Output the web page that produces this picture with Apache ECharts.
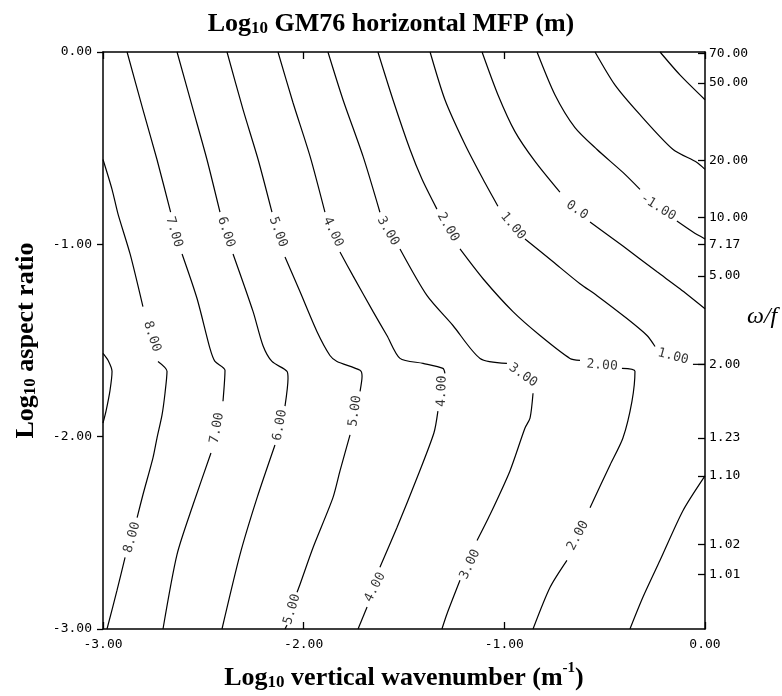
<!DOCTYPE html>
<html>
<head>
<meta charset="utf-8">
<script src="https://cdn.jsdelivr.net/npm/echarts@6/dist/echarts.min.js"></script>
<style>html,body{margin:0;padding:0;background:#fff}#c{width:782px;height:696px}</style>
</head>
<body>
<div id="c"></div>
<script>
// ---- axis ticks ----
const xTickValues = [-3, -2, -1, 0];
const yTickValues = [-3, -2, -1, 0];
const omegaLabels = ['70.00','50.00','20.00','10.00','7.17','5.00','2.00','1.23','1.10','1.02','1.01'];
const omegaPos    = [-0.006,-0.160,-0.564,-0.859,-1.000,-1.164,-1.624,-2.007,-2.204,-2.560,-2.716];

// ---- contour lines: [log10 vertical wavenumber, log10 aspect ratio], split at label gaps ----
const contour8 = [
  [[-3,-0.559],[-2.955,-0.714],[-2.925,-0.843],[-2.865,-1.050],[-2.801,-1.324]],
  [[-2.726,-1.609],[-2.681,-1.660],[-2.691,-1.774],[-2.706,-1.888],[-2.731,-2.007],[-2.751,-2.110],[-2.801,-2.302],[-2.830,-2.421]],
  [[-2.890,-2.628],[-2.930,-2.798],[-2.980,-3.0]]
];
const contour8b = [
  [[-3,-1.567],[-2.975,-1.603],[-2.955,-1.660],[-2.965,-1.759],[-2.985,-1.867],[-3,-1.929]]
];
const contour7 = [
  [[-2.880,0],[-2.801,-0.300],[-2.731,-0.559],[-2.663,-0.833]],
  [[-2.606,-1.050],[-2.531,-1.283],[-2.467,-1.541],[-2.442,-1.609],[-2.392,-1.655],[-2.402,-1.816]],
  [[-2.462,-2.085],[-2.551,-2.353],[-2.631,-2.612],[-2.701,-3.0]]
];
const contour6 = [
  [[-2.631,0],[-2.551,-0.300],[-2.482,-0.559],[-2.417,-0.833]],
  [[-2.352,-1.050],[-2.252,-1.350],[-2.203,-1.526],[-2.158,-1.609],[-2.083,-1.660],[-2.078,-1.697],[-2.093,-1.841]],
  [[-2.143,-2.043],[-2.232,-2.317],[-2.317,-2.612],[-2.407,-3.0]]
];
const contour5 = [
  [[-2.382,0],[-2.302,-0.300],[-2.227,-0.559],[-2.158,-0.833]],
  [[-2.093,-1.066],[-2.018,-1.247],[-1.934,-1.453],[-1.869,-1.578],[-1.834,-1.609],[-1.719,-1.655],[-1.709,-1.686],[-1.719,-1.764]],
  [[-1.769,-1.991],[-1.819,-2.178],[-1.854,-2.317],[-1.953,-2.576],[-2.018,-2.767],[-2.033,-2.809]],
  [[-2.083,-2.979],[-2.093,-3.0]]
];
const contour4 = [
  [[-2.128,0],[-2.053,-0.264],[-1.968,-0.543],[-1.894,-0.833]],
  [[-1.819,-1.040],[-1.754,-1.164],[-1.654,-1.350],[-1.585,-1.474],[-1.520,-1.593],[-1.405,-1.619],[-1.306,-1.645],[-1.296,-1.671]],
  [[-1.331,-1.867],[-1.351,-1.981],[-1.435,-2.214],[-1.535,-2.472],[-1.620,-2.679]],
  [[-1.684,-2.886],[-1.729,-3.0]]
];
const contour3 = [
  [[-1.879,0],[-1.804,-0.248],[-1.704,-0.543],[-1.620,-0.833]],
  [[-1.520,-1.024],[-1.385,-1.267],[-1.256,-1.422],[-1.121,-1.593],[-0.987,-1.619]],
  [[-0.857,-1.774],[-0.872,-1.904],[-0.897,-1.955],[-0.972,-2.178],[-1.071,-2.405],[-1.136,-2.540]],
  [[-1.221,-2.747],[-1.286,-2.922],[-1.311,-3.0]]
];
const contour2 = [
  [[-1.630,0],[-1.555,-0.248],[-1.470,-0.507],[-1.410,-0.662],[-1.336,-0.817]],
  [[-1.221,-1.024],[-1.106,-1.179],[-0.957,-1.350],[-0.822,-1.474],[-0.673,-1.593],[-0.623,-1.603]],
  [[-0.414,-1.645],[-0.349,-1.660],[-0.364,-1.816],[-0.409,-2.007],[-0.473,-2.147],[-0.573,-2.369]],
  [[-0.688,-2.643],[-0.772,-2.783],[-0.857,-3.0]]
];
const contour1 = [
  [[-1.370,0],[-1.296,-0.248],[-1.196,-0.481],[-1.106,-0.662],[-1.032,-0.802]],
  [[-0.897,-0.972],[-0.757,-1.091],[-0.623,-1.205],[-0.538,-1.267],[-0.389,-1.386],[-0.289,-1.474],[-0.249,-1.531]],
  [[-0.060,-1.624],[0,-1.624]],
  [[0,-2.204],[-0.110,-2.385],[-0.224,-2.643],[-0.309,-2.834],[-0.374,-3.0]]
];
const contour0 = [
  [[-1.111,0],[-1.032,-0.222],[-0.947,-0.414],[-0.847,-0.569],[-0.723,-0.729]],
  [[-0.573,-0.884],[-0.409,-1.009],[-0.239,-1.143],[-0.125,-1.231],[0,-1.335]]
];
const contourM1 = [
  [[-0.837,0],[-0.748,-0.222],[-0.648,-0.393],[-0.538,-0.507],[-0.409,-0.626],[-0.324,-0.714]],
  [[-0.140,-0.879],[-0.060,-0.936],[0,-0.972]]
];
const contourM2 = [
  [[-0.548,0],[-0.449,-0.171],[-0.324,-0.326],[-0.159,-0.507],[-0.040,-0.574],[0,-0.610]]
];
const contourM3 = [
  [[-0.224,0],[-0.125,-0.119],[0,-0.248]]
];

// ---- contour labels: [x, y, text] and their angles ----
const contourLabels = [
  [-2.756,-1.479,'8.00'],[-2.855,-2.524,'8.00'],
  [-2.646,-0.936,'7.00'],[-2.432,-1.955,'7.00'],
  [-2.387,-0.936,'6.00'],[-2.118,-1.940,'6.00'],
  [-2.128,-0.936,'5.00'],[-1.744,-1.867,'5.00'],[-2.058,-2.897,'5.00'],
  [-1.854,-0.936,'4.00'],[-1.311,-1.764,'4.00'],[-1.644,-2.783,'4.00'],
  [-1.580,-0.931,'3.00'],[-0.907,-1.681,'3.00'],[-1.171,-2.664,'3.00'],
  [-1.281,-0.910,'2.00'],[-0.513,-1.629,'2.00'],[-0.633,-2.514,'2.00'],
  [-0.957,-0.905,'1.00'],[-0.159,-1.583,'1.00'],
  [-0.638,-0.822,'0.0'],
  [-0.234,-0.807,'-1.00']
];
const contourLabelAngles = [-72,74,-73,80,-72,80,-70,82,73,-65,88,63,-60,-35,65,-60,-4,62,-50,-15,-35,-32];

const allContours = [contour8, contour8b, contour7, contour6, contour5, contour4, contour3, contour2, contour1, contour0, contourM1, contourM2, contourM3];

const mono = 'DejaVu Sans Mono';
const serif = 'Liberation Serif';
const series = [];
allContours.forEach(c => c.forEach(seg => {
  series.push({
    type: 'line', data: seg, symbol: 'none', smooth: 0.25, silent: true,
    lineStyle: { color: '#000', width: 1.2 }, z: 3, clip: false
  });
}));
series.push({
  type: 'scatter', symbolSize: 1, itemStyle: { color: 'rgba(0,0,0,0)' }, z: 4, clip: false,
  data: contourLabels.map((d, i) => ({
    value: [d[0], d[1]],
    label: { show: true, position: 'inside', formatter: d[2], rotate: contourLabelAngles[i],
             fontFamily: mono, fontSize: 13, color: '#000', align: 'center', verticalAlign: 'middle' }
  }))
});

const richName = {
  a: { fontFamily: serif, fontSize: 26, fontWeight: 'bold', lineHeight: 30, color: '#000', verticalAlign: 'bottom' },
  b: { fontFamily: serif, fontSize: 17, fontWeight: 'bold', lineHeight: 16, color: '#000', verticalAlign: 'bottom' },
  c: { fontFamily: serif, fontSize: 15, fontWeight: 'bold', lineHeight: 16, color: '#000', verticalAlign: 'top' }
};
const fmt2 = v => v.toFixed(2);

const chart = echarts.init(document.getElementById('c'), null, { renderer: 'canvas' });
chart.setOption({
  animation: false,
  backgroundColor: '#fff',
  title: {
    text: '{a|Log}{b|10}{a| GM76 horizontal MFP (m)}',
    left: 'center', top: 2,
    textStyle: { rich: richName }
  },
  grid: { left: 103, right: 77, top: 52, bottom: 64, containLabel: false },
  xAxis: [
    {
      type: 'value', min: xTickValues[0], max: xTickValues[xTickValues.length - 1], interval: 1, position: 'bottom',
      axisLine: { show: true, onZero: false, lineStyle: { color: '#000', width: 1.5 } },
      axisTick: { show: true, inside: true, length: 7, lineStyle: { color: '#000', width: 1.3 } },
      axisLabel: { formatter: fmt2, fontFamily: mono, fontSize: 13, color: '#000', margin: 9 },
      splitLine: { show: false },
      name: '{a|Log}{b|10}{a| vertical wavenumber (m}{c|-1}{a|)}',
      nameLocation: 'middle', nameGap: 32,
      nameTextStyle: { rich: richName }
    },
    {
      type: 'value', min: xTickValues[0], max: xTickValues[xTickValues.length - 1], interval: 1, position: 'top',
      axisLine: { show: true, onZero: false, lineStyle: { color: '#000', width: 1.5 } },
      axisTick: { show: true, inside: true, length: 7, lineStyle: { color: '#000', width: 1.3 } },
      axisLabel: { show: false }, splitLine: { show: false }
    }
  ],
  yAxis: [
    {
      type: 'value', min: yTickValues[0], max: yTickValues[yTickValues.length - 1], interval: 1, position: 'left',
      axisLine: { show: true, onZero: false, lineStyle: { color: '#000', width: 1.5 } },
      axisTick: { show: true, inside: false, length: 6, lineStyle: { color: '#000', width: 1.3 } },
      axisLabel: { formatter: fmt2, fontFamily: mono, fontSize: 13, color: '#000', margin: 11 },
      splitLine: { show: false },
      name: '{a|Log}{b|10}{a| aspect ratio}',
      nameLocation: 'middle', nameGap: 64, nameRotate: 90,
      nameTextStyle: { rich: richName }
    },
    {
      type: 'value', min: -3, max: 0, position: 'right',
      axisLine: { show: true, onZero: false, lineStyle: { color: '#000', width: 1.5 } },
      axisTick: { show: true, inside: true, length: 7, customValues: omegaPos, lineStyle: { color: '#000', width: 1.3 } },
      axisLabel: {
        customValues: omegaPos, fontFamily: mono, fontSize: 13, color: '#000', margin: 4,
        formatter: v => {
          let best = 0;
          omegaPos.forEach((p, i) => { if (Math.abs(p - v) < Math.abs(omegaPos[best] - v)) best = i; });
          return omegaLabels[best];
        }
      },
      splitLine: { show: false }
    }
  ],
  graphic: [
    { type: 'text', left: 747, top: 305,
      style: { text: 'ω/f', font: 'italic 24px "Liberation Serif"', fill: '#000' } }
  ],
  series: series
});
</script>
</body>
</html>
